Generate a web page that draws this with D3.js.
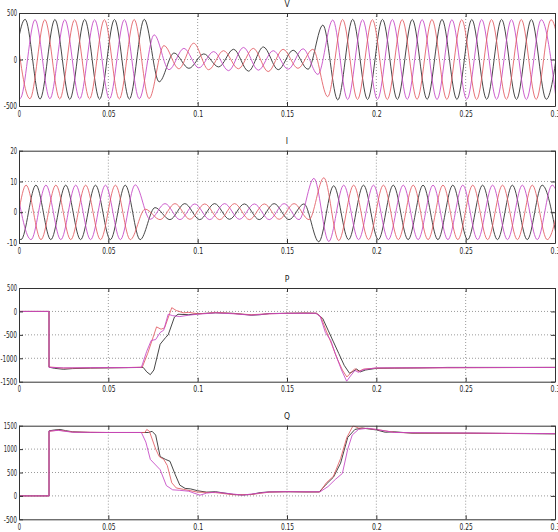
<!DOCTYPE html>
<html>
<head>
<meta charset="utf-8">
<script src="https://cdn.jsdelivr.net/npm/d3@7"></script>
<style>
  html, body { margin: 0; padding: 0; background: #fff; }
  svg { display: block; }
  .tick text, .ttl {
    font-family: "Liberation Sans Narrow", "DejaVu Sans Condensed", "Liberation Sans", sans-serif;
    font-size: 8.5px;
    fill: #222;
  }
</style>
</head>
<body>
<svg id="fig" width="558" height="532"></svg>
<script>
// ---- time axis ----
const timeDomain = [0, 0.3];
const timeTicks = [0, 0.05, 0.1, 0.15, 0.2, 0.25, 0.3];
const halfCycle = 1 / 120;            // 60 Hz supply, one extremum every half cycle

// ---- panel titles, ranges and ticks ----
const titles = ["V", "I", "P", "Q"];
const vRange = [-500, 500];
const vTicks = [-500, 0, 500];
const iRange = [-10, 20];
const iTicks = [-10, 0, 10, 20];
const pRange = [-1500, 500];
const pTicks = [-1500, -1000, -500, 0, 500];
const qRange = [-500, 1500];
const qTicks = [-500, 0, 500, 1000, 1500];

// ---- phase voltages: time of first extremum and signed peak of each half cycle ----
const vFirstPeak = [-0.0049, -0.0077, -0.0022];
const vPeaksA = [-428, 432, -426, 430, -428, 431, -427, 430, -426, 432,
  -240, 70, -95, 60, -80, 110, -125, 135, -110, 100, -105,
  370, -435, 432, -430, 431, -429, 430, -428, 431, -429, 430, -428, 431, -429, 430, -428, 430];
const vPeaksB = [425, -420, 428, -422, 428, -424, 427, -423, 428, -422,
  265, -110, 120, -90, 85, -120, 130, -115, 95, -105, 115, -160,
  425, -430, 428, -429, 430, -428, 429, -430, 428, -429, 430, -428, 429, -430, 428, -428];
const vPeaksC = [424, -422, 428, -424, 427, -423, 428, -424, 430, -420,
  150, -100, 175, -110, 95, -100, 120, -130, 110, -95, 110,
  -400,
  430, -429, 428, -430, 429, -428, 430, -429, 428, -430, 429, -428, 430, -429, 428, -430];

// ---- phase currents ----
const iFirstPeak = [-0.0072, -0.0016, -0.0127];
const iPeaksA = [8.8, -8.9, 8.8, -8.9, 8.8, -8.9, 8.8, -8.9, 8.8, -8.9,
  1.5, -2.4, 2.8, -2.4, 2.8, -2.3, 2.7, -2.4, 2.8, -2.4, 2.7,
  -9.6,
  8.6, -8.9, 8.8, -8.9, 8.8, -8.9, 8.8, -8.9, 8.8, -8.9, 8.8, -8.9, 8.8, -8.9, 8.8, -8.9];
const iPeaksB = [8.8, -8.9, 8.8, -8.9, 8.8, -8.9, 8.8, -8.9, 8.9,
  -2.3, 2.8, -2.4, 2.7, -2.4, 2.8, -2.3, 2.7, -2.4, 2.8, -2.4,
  11.0, -9.5,
  8.8, -8.9, 8.8, -8.9, 8.8, -8.9, 8.8, -8.9, 8.8, -8.9, 8.8, -8.9, 8.8, -8.9, 8.8, -8.9];
const iPeaksC = [8.8, -8.9, 8.8, -8.9, 8.8, -8.9, 8.8, -8.9, 8.8, -8.9,
  1.0,
  -2.4, 2.8, -2.3, 2.7, -2.4, 2.8, -2.4, 2.7, -2.3, 2.8, -2.4,
  11.2,
  -9.2, 8.8, -8.9, 8.8, -8.9, 8.8, -8.9, 8.8, -8.9, 8.8, -8.9, 8.8, -8.9, 8.8, -8.9, 8.8];

// ---- active power [time, value] ----
const pA = [[0,0],[0.0168,0],[0.0168,-1190],[0.02,-1215],[0.025,-1235],[0.03,-1220],[0.04,-1210],
  [0.05,-1205],[0.06,-1200],[0.0695,-1195],[0.0715,-1290],[0.0735,-1350],[0.0755,-1250],[0.079,-700],
  [0.082,-560],[0.0835,-500],[0.087,-120],[0.089,-60],[0.095,-70],[0.1,-50],[0.11,-30],[0.12,-40],
  [0.125,-60],[0.13,-80],[0.135,-70],[0.14,-45],[0.15,-40],[0.16,-35],[0.1665,-40],[0.17,-150],
  [0.173,-400],[0.176,-650],[0.179,-900],[0.182,-1150],[0.185,-1320],[0.187,-1280],[0.189,-1230],
  [0.191,-1290],[0.194,-1250],[0.2,-1215],[0.21,-1210],[0.225,-1205],[0.24,-1195],[0.3,-1195]];
const pB = [[0,0],[0.0168,0],[0.0168,-1195],[0.025,-1205],[0.04,-1200],[0.06,-1198],[0.0685,-1195],
  [0.0715,-850],[0.074,-620],[0.0765,-600],[0.079,-450],[0.081,-400],[0.0835,-60],[0.086,-90],
  [0.09,-110],[0.095,-80],[0.1,-60],[0.11,-30],[0.12,-50],[0.13,-80],[0.14,-50],[0.15,-40],[0.16,-40],
  [0.166,-40],[0.1685,-100],[0.1715,-450],[0.1745,-620],[0.177,-900],[0.1805,-1250],[0.1834,-1490],
  [0.1855,-1380],[0.188,-1260],[0.19,-1300],[0.193,-1240],[0.2,-1205],[0.3,-1195]];
const pC = [[0,0],[0.0168,0],[0.0168,-1185],[0.025,-1210],[0.04,-1205],[0.06,-1198],[0.069,-1190],
  [0.072,-900],[0.0755,-500],[0.077,-330],[0.0795,-380],[0.0815,-350],[0.0855,80],[0.088,20],
  [0.092,-30],[0.095,-20],[0.1,-50],[0.105,-40],[0.11,-20],[0.12,-45],[0.13,-70],[0.14,-50],[0.15,-40],
  [0.16,-35],[0.1665,-40],[0.169,-120],[0.172,-420],[0.175,-700],[0.178,-1000],[0.181,-1250],
  [0.1835,-1400],[0.186,-1300],[0.188,-1220],[0.19,-1280],[0.193,-1230],[0.2,-1210],[0.22,-1205],[0.3,-1195]];

// ---- reactive power [time, value] ----
const qA = [[0,0],[0.0168,0],[0.0168,1390],[0.02,1410],[0.023,1420],[0.026,1395],[0.03,1370],[0.04,1355],
  [0.05,1355],[0.06,1355],[0.0725,1355],[0.0745,1380],[0.0765,1300],[0.079,840],[0.082,780],[0.0845,740],
  [0.0875,450],[0.09,230],[0.093,160],[0.096,150],[0.1,110],[0.105,80],[0.11,90],[0.12,30],[0.125,20],
  [0.13,30],[0.135,70],[0.14,85],[0.15,90],[0.16,85],[0.168,85],[0.172,250],[0.176,400],[0.18,700],
  [0.184,1250],[0.188,1420],[0.192,1450],[0.196,1430],[0.2,1410],[0.205,1360],[0.21,1370],[0.215,1355],
  [0.22,1340],[0.25,1340],[0.27,1335],[0.3,1325]];
const qB = [[0,0],[0.0168,0],[0.0168,1385],[0.022,1400],[0.03,1360],[0.05,1355],[0.0685,1355],[0.071,1150],
  [0.0735,780],[0.0765,660],[0.079,560],[0.0825,220],[0.086,130],[0.09,120],[0.095,100],[0.1013,15],
  [0.105,60],[0.11,80],[0.12,40],[0.125,15],[0.13,40],[0.14,85],[0.15,90],[0.16,88],[0.1685,88],
  [0.173,200],[0.177,350],[0.181,480],[0.184,1000],[0.1865,1300],[0.19,1420],[0.195,1445],[0.2,1420],
  [0.21,1355],[0.3,1330]];
const qC = [[0,0],[0.0168,0],[0.0168,1380],[0.022,1405],[0.03,1365],[0.05,1355],[0.0705,1355],[0.0715,1420],
  [0.073,1380],[0.0765,1000],[0.0785,840],[0.081,780],[0.083,650],[0.0855,280],[0.088,170],[0.092,140],
  [0.1,80],[0.11,70],[0.12,25],[0.13,30],[0.14,80],[0.15,90],[0.16,85],[0.1685,85],[0.172,280],
  [0.176,420],[0.18,800],[0.1835,1250],[0.187,1500],[0.19,1450],[0.195,1440],[0.2,1420],[0.21,1360],
  [0.22,1345],[0.3,1330]];

// ---- styling ----
const phaseColors = ["#333333", "#c444c4", "#e25a62"];   // phase a, b, c
const axisColor = "#333";
const gridColor = "#9a9a9a";
const charWidth = 3.3;                                    // condensed tick-label glyph width

// ---- layout ----
const plotLeft = 19, plotRight = 555;
const panelRows = [[13, 106], [150.7, 243], [288, 381.7], [425.7, 519.3]];

const svg = d3.select("#fig");
const x = d3.scaleLinear().domain(timeDomain).range([plotLeft, plotRight]);

// expand per-half-cycle extrema into [time, value] points
function extrema(t0, peaks) {
  return peaks.map((v, k) => [t0 + k * halfCycle, v]);
}

// squeeze label glyphs to a narrow face
function condense(sel) {
  sel.selectAll(".tick text")
    .attr("textLength", function () { return this.textContent.length * charWidth; })
    .attr("lengthAdjust", "spacingAndGlyphs");
}

const panelData = [
  { range: vRange, ticks: vTicks, curve: d3.curveMonotoneX,
    series: [extrema(vFirstPeak[0], vPeaksA), extrema(vFirstPeak[1], vPeaksB), extrema(vFirstPeak[2], vPeaksC)],
    order: [0, 1, 2] },
  { range: iRange, ticks: iTicks, curve: d3.curveMonotoneX,
    series: [extrema(iFirstPeak[0], iPeaksA), extrema(iFirstPeak[1], iPeaksB), extrema(iFirstPeak[2], iPeaksC)],
    order: [0, 1, 2] },
  { range: pRange, ticks: pTicks, curve: d3.curveLinear, series: [pA, pB, pC], order: [0, 2, 1] },
  { range: qRange, ticks: qTicks, curve: d3.curveLinear, series: [qA, qB, qC], order: [0, 2, 1] }
];

panelData.forEach((pd, i) => {
  const [top, bottom] = panelRows[i];
  const y = d3.scaleLinear().domain(pd.range).range([bottom, top]);
  const g = svg.append("g");

  // dotted grid
  g.append("g").selectAll("line").data(timeTicks.slice(1, -1)).join("line")
    .attr("x1", d => x(d)).attr("x2", d => x(d))
    .attr("y1", top).attr("y2", bottom)
    .attr("stroke", gridColor).attr("stroke-width", 1).attr("stroke-dasharray", "1,2");
  g.append("g").selectAll("line").data(pd.ticks.slice(1, -1)).join("line")
    .attr("x1", plotLeft).attr("x2", plotRight)
    .attr("y1", d => y(d)).attr("y2", d => y(d))
    .attr("stroke", gridColor).attr("stroke-width", 1).attr("stroke-dasharray", "1,2");

  // traces, clipped to the axes box
  const clipId = "clip" + i;
  svg.append("clipPath").attr("id", clipId).append("rect")
    .attr("x", plotLeft).attr("y", top).attr("width", plotRight - plotLeft).attr("height", bottom - top);
  const line = d3.line().x(d => x(d[0])).y(d => y(d[1])).curve(pd.curve);
  const traces = g.append("g").attr("clip-path", `url(#${clipId})`);
  pd.order.forEach(s => {
    traces.append("path").datum(pd.series[s])
      .attr("d", line).attr("fill", "none")
      .attr("stroke", phaseColors[s]).attr("stroke-width", 1)
      .attr("stroke-opacity", s === 0 ? 0.9 : 0.85);
  });

  // axes with inward ticks on all four sides
  const fmt = d => String(d);
  g.append("g").attr("transform", `translate(0,${bottom})`)
    .call(d3.axisBottom(x).tickValues(timeTicks).tickFormat(fmt).tickSizeInner(-4).tickSizeOuter(0).tickPadding(4.5))
    .call(condense);
  g.append("g").attr("transform", `translate(0,${top})`)
    .call(d3.axisTop(x).tickValues(timeTicks).tickFormat("").tickSizeInner(-4).tickSizeOuter(0));
  g.append("g").attr("transform", `translate(${plotLeft},0)`)
    .call(d3.axisLeft(y).tickValues(pd.ticks).tickFormat(fmt).tickSizeInner(-4).tickSizeOuter(0).tickPadding(2))
    .call(condense);
  g.append("g").attr("transform", `translate(${plotRight},0)`)
    .call(d3.axisRight(y).tickValues(pd.ticks).tickFormat("").tickSizeInner(-4).tickSizeOuter(0));
  g.selectAll(".domain, .tick line").attr("stroke", axisColor);

  // title
  g.append("text").attr("class", "ttl")
    .attr("x", (plotLeft + plotRight) / 2).attr("y", top - 6.5)
    .attr("text-anchor", "middle").text(titles[i]);
});
</script>
</body>
</html>
